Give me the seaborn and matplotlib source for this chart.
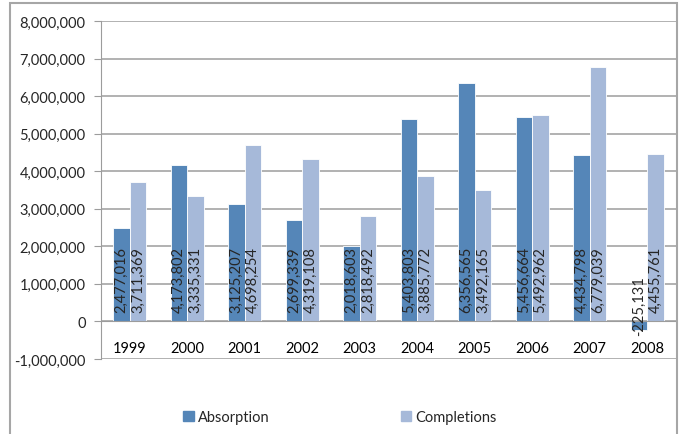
import pandas as pd
import seaborn as sns
import matplotlib.pyplot as plt
from matplotlib.patches import Rectangle
from matplotlib.ticker import FuncFormatter, MultipleLocator

years = ["1999", "2000", "2001", "2002", "2003", "2004", "2005", "2006", "2007", "2008"]
absorption = [2477016, 4173802, 3125207, 2699339, 2018603, 5403803, 6356565, 5456664, 4434798, -225131]
completions = [3711369, 3335331, 4698254, 4319108, 2818492, 3885772, 3492165, 5492962, 6779039, 4455761]
series = ["Absorption", "Completions"]
colors = ["#5586B8", "#A6B9D9"]

df = pd.DataFrame({
    "year": years * 2,
    "value": absorption + completions,
    "series": [series[0]] * len(years) + [series[1]] * len(years),
})

sns.set_style("white")
plt.rcParams["font.family"] = ["Lato", "DejaVu Sans"]
fs = 10.5

fig = plt.figure(figsize=(6.79, 4.35), dpi=100)
ax = fig.add_axes([101 / 679, 1 - 360 / 435, 575 / 679, 338 / 435])

sns.barplot(data=df, x="year", y="value", hue="series", palette=colors, saturation=1,
            width=0.57, edgecolor="white", linewidth=0.6, ax=ax, legend=False, zorder=3)

ax.set_ylim(-1e6, 8e6)
ax.set_xlim(-0.5, len(years) - 0.5)
ax.yaxis.set_major_locator(MultipleLocator(1e6))
ax.yaxis.set_major_formatter(FuncFormatter(lambda v, p: f"{v:,.0f}"))
ax.grid(axis="y", color="#9C9C9C", linewidth=1.1, zorder=0)
ax.set_axisbelow(True)

for s in ["top", "right"]:
    ax.spines[s].set_visible(False)
ax.spines["left"].set_color("#9C9C9C")
ax.spines["bottom"].set_position(("data", 0))
ax.spines["bottom"].set_color("#9C9C9C")
ax.spines["bottom"].set_zorder(4)

ax.set_xticks(range(len(years)))
ax.set_xticklabels(years)
ax.set_xticks([i + 0.5 for i in range(len(years) - 1)], minor=True)
ax.tick_params(axis="x", which="major", length=0, pad=14, labelsize=fs, colors="black")
ax.tick_params(axis="x", which="minor", length=5, color="#9C9C9C", direction="out")
ax.tick_params(axis="y", length=5, color="#9C9C9C", labelsize=fs, pad=6, left=True)
ax.set_xlabel("")
ax.set_ylabel("")

for cont in ax.containers:
    for bar in cont:
        h = bar.get_height()
        val = h if bar.get_y() == 0 else -h
        xc = bar.get_x() + bar.get_width() / 2
        if val >= 0:
            ax.annotate(f"{val:,.0f}", xy=(xc, 0), xytext=(0, 7), textcoords="offset points",
                        rotation=90, ha="center", va="bottom", fontsize=fs, zorder=5)
        else:
            ax.annotate(f"{val:,.0f}", xy=(xc, val), xytext=(0, -4), textcoords="offset points",
                        rotation=90, ha="center", va="bottom", fontsize=fs, zorder=5)

handles = [Rectangle((0, 0), 1, 1, color=c) for c in colors]
fig.legend(handles, series, loc="center", bbox_to_anchor=(340 / 679, 1 - 418 / 435), ncol=2,
           frameon=False, fontsize=fs, handlelength=0.7, handleheight=0.7,
           handletextpad=0.3, columnspacing=9)

fig.patches.append(Rectangle((10 / 679, -0.05), 667 / 679, 1.05 - 4 / 435,
                             transform=fig.transFigure, fill=False,
                             edgecolor="#A6A6A6", linewidth=1.5))

fig.savefig("out.png", dpi=100)
